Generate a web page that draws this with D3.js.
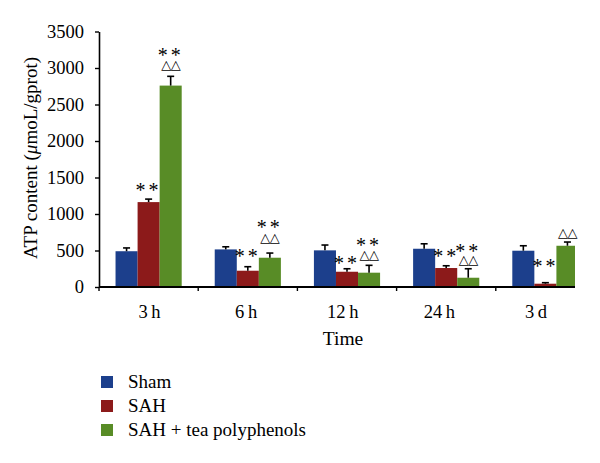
<!DOCTYPE html>
<html>
<head>
<meta charset="utf-8">
<script src="https://cdn.jsdelivr.net/npm/d3@7"></script>
<style>
  html, body { margin: 0; padding: 0; background: #fff; }
  svg { display: block; }
</style>
</head>
<body>
<svg id="chart" width="600" height="463"></svg>
<script>
// ---- data ----
const categories = ["3\u2009h", "6\u2009h", "12\u2009h", "24\u2009h", "3\u2009d"];
const seriesNames = ["Sham", "SAH", "SAH + tea polyphenols"];
const shamValues = [490, 515, 502, 524, 497];
const sahValues = [1163, 223, 209, 260, 45];
const teaValues = [2759, 401, 196, 127, 565];
const shamErrors = [45, 36, 73, 68, 68];
const sahErrors = [41, 55, 41, 31, 14];
const teaErrors = [127, 64, 101, 123, 51];
// significance marks (text) and the value level where each mark row is centred
const sahMarks = ["**", "**", "**", "**", "**"];
const sahMarkLevels = [1356, 462, 360, 452, 315];
const teaStarMarks = ["**", "**", "**", "**", ""];
const teaStarLevels = [3205, 849, 612, 530, 0];
const teaDeltaMarks = ["\u25B3\u25B3", "\u25B3\u25B3", "\u25B3\u25B3", "\u25B3\u25B3", "\u25B3\u25B3"];
const teaDeltaLevels = [3055, 685, 452, 379, 753];
const yTicks = [0, 500, 1000, 1500, 2000, 2500, 3000, 3500];
const colors = ["#1c3f8c", "#8c1a1a", "#588c26"];

const svg = d3.select("#chart");
const serif = "'Liberation Serif', 'DejaVu Serif', serif";

const x0 = d3.scaleBand().domain(categories).range([99, 595]).paddingInner(0.333).paddingOuter(0.1667);
const x1 = d3.scaleBand().domain(seriesNames).range([0, x0.bandwidth()]).padding(0);
const xLabel = d3.scalePoint().domain(categories).range([149.5, 536]);
const y = d3.scaleLinear().domain([0, 3500]).range([287, 31.5]);
const axisEnd = 575;

const seriesVals = [shamValues, sahValues, teaValues];
const seriesErr = [shamErrors, sahErrors, teaErrors];

const rows = [];
categories.forEach((c, i) => {
  seriesNames.forEach((s, j) => {
    rows.push({cat: c, series: s, j, v: seriesVals[j][i], e: seriesErr[j][i]});
  });
});

svg.append("defs").append("clipPath").attr("id", "plotclip")
  .append("rect").attr("x", 0).attr("y", 0).attr("width", axisEnd).attr("height", 463);

const plot = svg.append("g").attr("clip-path", "url(#plotclip)");

// bars
plot.selectAll("rect.bar").data(rows).join("rect")
  .attr("class", "bar")
  .attr("x", d => x0(d.cat) + x1(d.series))
  .attr("width", x1.bandwidth())
  .attr("y", d => y(d.v))
  .attr("height", d => y(0) - y(d.v))
  .attr("fill", d => colors[d.j]);

// error bars
const eg = plot.selectAll("g.err").data(rows).join("g").attr("class", "err")
  .attr("stroke", "#000").attr("stroke-width", 1.6);
eg.append("line")
  .attr("x1", d => x0(d.cat) + x1(d.series) + x1.bandwidth() / 2)
  .attr("x2", d => x0(d.cat) + x1(d.series) + x1.bandwidth() / 2)
  .attr("y1", d => y(d.v)).attr("y2", d => y(d.v + d.e));
eg.append("line")
  .attr("x1", d => x0(d.cat) + x1(d.series) + x1.bandwidth() / 2 - 3.5)
  .attr("x2", d => x0(d.cat) + x1(d.series) + x1.bandwidth() / 2 + 3.5)
  .attr("y1", d => y(d.v + d.e)).attr("y2", d => y(d.v + d.e));

// y axis
const yAxis = d3.axisLeft(y).tickValues(yTicks).tickFormat(d3.format("d"))
  .tickSize(4).tickPadding(11).tickSizeOuter(0);
const yg = svg.append("g").attr("transform", "translate(99,0)").call(yAxis);
yg.select(".domain").attr("stroke", "#000").attr("stroke-width", 1.6);
yg.selectAll(".tick line").attr("stroke", "#000").attr("stroke-width", 1.4);
yg.selectAll(".tick text").attr("font-family", serif).attr("font-size", 18.5).attr("fill", "#000");

// x axis
const xg = svg.append("g");
xg.append("line").attr("x1", 99).attr("x2", axisEnd).attr("y1", y(0)).attr("y2", y(0))
  .attr("stroke", "#000").attr("stroke-width", 2);
const gap = x0.step() - x0.bandwidth();
xg.selectAll("line.xt").data(categories).join("line").attr("class", "xt")
  .attr("x1", d => x0(d) - gap / 2).attr("x2", d => x0(d) - gap / 2)
  .attr("y1", y(0)).attr("y2", y(0) + 4)
  .attr("stroke", "#000").attr("stroke-width", 1.4);
xg.selectAll("text.xl").data(categories).join("text").attr("class", "xl")
  .attr("x", d => xLabel(d))
  .attr("y", 318)
  .attr("text-anchor", "middle")
  .attr("font-family", serif).attr("font-size", 18.5)
  .text(d => d);

svg.append("text").attr("x", 343).attr("y", 345).attr("text-anchor", "middle")
  .attr("font-family", serif).attr("font-size", 19.5).text("Time");

// y title
const yt = svg.append("text")
  .attr("transform", "translate(37,158) rotate(-90)")
  .attr("text-anchor", "middle")
  .attr("font-family", serif).attr("font-size", 19);
yt.append("tspan").text("ATP content (");
yt.append("tspan").attr("font-style", "italic").text("\u03BC");
yt.append("tspan").text("moL/gprot)");

// significance marks
function marks(texts, levels, j, kind) {
  const data = categories.map((c, i) => ({cat: c, t: texts[i], lv: levels[i]})).filter(d => d.t);
  svg.append("g").selectAll("text").data(data).join("text")
    .attr("x", d => x0(d.cat) + x1(seriesNames[j]) + x1.bandwidth() / 2)
    .attr("y", d => y(d.lv))
    .attr("dy", kind === "star" ? "0.47em" : "0.36em")
    .attr("text-anchor", "middle")
    .attr("font-family", kind === "star" ? serif : "'DejaVu Sans', sans-serif")
    .attr("font-size", kind === "star" ? 20 : 13)
    .attr("letter-spacing", kind === "star" ? 3 : -0.5)
    .text(d => d.t);
}
marks(sahMarks, sahMarkLevels, 1, "star");
marks(teaStarMarks, teaStarLevels, 2, "star");
marks(teaDeltaMarks, teaDeltaLevels, 2, "delta");

// legend
const lg = svg.append("g");
seriesNames.forEach((s, j) => {
  const cy = 382 + j * 24;
  lg.append("rect").attr("x", 101).attr("y", cy - 6).attr("width", 12).attr("height", 12).attr("fill", colors[j]);
  lg.append("text").attr("x", 128).attr("y", cy + 6)
    .attr("font-family", serif).attr("font-size", 19).text(s);
});
</script>
</body>
</html>
